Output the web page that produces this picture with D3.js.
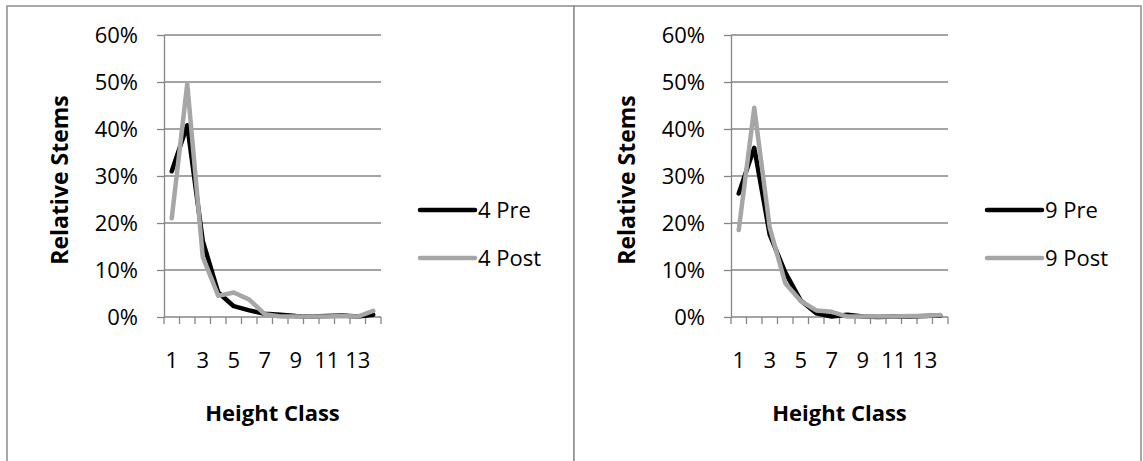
<!DOCTYPE html>
<html>
<head>
<meta charset="utf-8">
<script src="https://cdn.jsdelivr.net/npm/d3@7/dist/d3.min.js"></script>
<style>
  html, body { margin: 0; padding: 0; background: #fff; }
  svg { display: block; }
  text { font-family: "Open Sans", "Liberation Sans", sans-serif; fill: #000; }
</style>
</head>
<body>
<svg id="chart" width="1143" height="461"></svg>
<script>
// Height classes along the x axis
const categories = [1, 2, 3, 4, 5, 6, 7, 8, 9, 10, 11, 12, 13, 14];
const xTickLabels = [1, 3, 5, 7, 9, 11, 13];
const yTicks = [0, 0.1, 0.2, 0.3, 0.4, 0.5, 0.6];

// Share of stems per height class (percent)
const plot4Pre  = [31.0, 40.8, 16.2, 5.2, 2.3, 1.4, 0.7, 0.5, 0.2, 0.1, 0.2, 0.3, 0.1, 0.5];
const plot4Post = [21.0, 49.6, 12.8, 4.5, 5.2, 3.7, 0.6, 0.1, 0.1, 0.1, 0.1, 0.2, 0.1, 1.3];
const plot9Pre  = [26.3, 36.0, 17.5, 9.5, 3.5, 0.8, 0.1, 0.5, 0.1, 0.0, 0.1, 0.1, 0.2, 0.3];
const plot9Post = [18.5, 44.5, 19.0, 7.2, 3.4, 1.4, 1.1, 0.1, 0.1, 0.1, 0.1, 0.2, 0.2, 0.4];

const panels = [
  { x0: 7,   w: 567, pre: plot4Pre, post: plot4Post, preName: "4 Pre", postName: "4 Post" },
  { x0: 574, w: 567, pre: plot9Pre, post: plot9Post, preName: "9 Pre", postName: "9 Post" }
];

const svg = d3.select("#chart");
const axisGrey = "#868686";
const FS = 22;

function drawPanel(p) {
  const g = svg.append("g").attr("transform", `translate(${p.x0},0)`);

  // panel frame
  g.append("rect")
    .attr("x", 0).attr("y", 6)
    .attr("width", p.w).attr("height", 470)
    .attr("fill", "#fff")
    .attr("stroke", "#8c8c8c").attr("stroke-width", 1.5);

  const left = 157, right = 374, top = 35, bottom = 317;

  const x = d3.scaleBand().domain(categories).range([left, right]).paddingInner(0).paddingOuter(0);
  const y = d3.scaleLinear().domain([0, 0.6]).range([bottom, top]);
  const cx = d => x(d) + x.bandwidth() / 2;

  // horizontal gridlines
  g.append("g").selectAll("line").data(yTicks.slice(1)).join("line")
    .attr("x1", left).attr("x2", right)
    .attr("y1", d => y(d)).attr("y2", d => y(d))
    .attr("stroke", axisGrey).attr("stroke-width", 1.3);

  // y axis
  const yAxis = g.append("g")
    .attr("transform", `translate(${left},0)`)
    .call(d3.axisLeft(y).tickValues(yTicks).tickFormat(d3.format(".0%")).tickSize(7).tickPadding(19).tickSizeOuter(0));
  yAxis.selectAll("line, path").attr("stroke", axisGrey).attr("stroke-width", 1.3);
  yAxis.selectAll("text").attr("font-size", FS).attr("font-family", null);

  // x axis baseline and boundary tick marks
  g.append("line")
    .attr("x1", left).attr("x2", right)
    .attr("y1", bottom).attr("y2", bottom)
    .attr("stroke", axisGrey).attr("stroke-width", 1.3);
  const bounds = categories.map(c => x(c)).concat([right]);
  g.append("g").selectAll("line").data(bounds).join("line")
    .attr("x1", d => d).attr("x2", d => d)
    .attr("y1", bottom).attr("y2", bottom + 7)
    .attr("stroke", axisGrey).attr("stroke-width", 1.3);

  // x tick labels (every other class)
  const xAxis = g.append("g")
    .attr("transform", `translate(0,${bottom})`)
    .call(d3.axisBottom(x).tickValues(xTickLabels).tickSize(0).tickPadding(35).tickSizeOuter(0));
  xAxis.select(".domain").remove();
  xAxis.selectAll("text").attr("font-size", FS).attr("font-family", null);

  // series lines
  const line = d3.line().x((d, i) => cx(categories[i])).y(d => y(d / 100));
  g.append("path").datum(p.pre)
    .attr("d", line).attr("fill", "none")
    .attr("stroke", "#000").attr("stroke-width", 4.5)
    .attr("stroke-linejoin", "round").attr("stroke-linecap", "round");
  g.append("path").datum(p.post)
    .attr("d", line).attr("fill", "none")
    .attr("stroke", "#a6a6a6").attr("stroke-width", 4.5)
    .attr("stroke-linejoin", "round").attr("stroke-linecap", "round");

  // axis titles
  g.append("text")
    .attr("transform", `translate(61,${(top + bottom) / 2 + 4}) rotate(-90)`)
    .attr("text-anchor", "middle")
    .attr("font-size", 23).attr("font-weight", "bold")
    .text("Relative Stems");
  g.append("text")
    .attr("x", (left + right) / 2).attr("y", 421)
    .attr("text-anchor", "middle")
    .attr("font-size", FS).attr("font-weight", "bold")
    .text("Height Class");

  // legend
  const legend = [
    { name: p.preName, color: "#000", y: 210 },
    { name: p.postName, color: "#a6a6a6", y: 258 }
  ];
  const lg = g.append("g");
  lg.selectAll("line").data(legend).join("line")
    .attr("x1", 413).attr("x2", 468)
    .attr("y1", d => d.y).attr("y2", d => d.y)
    .attr("stroke", d => d.color).attr("stroke-width", 4.5)
    .attr("stroke-linecap", "round");
  lg.selectAll("text").data(legend).join("text")
    .attr("x", 471).attr("y", d => d.y + 8)
    .attr("font-size", FS)
    .text(d => d.name);
}

panels.forEach(drawPanel);
</script>
</body>
</html>
